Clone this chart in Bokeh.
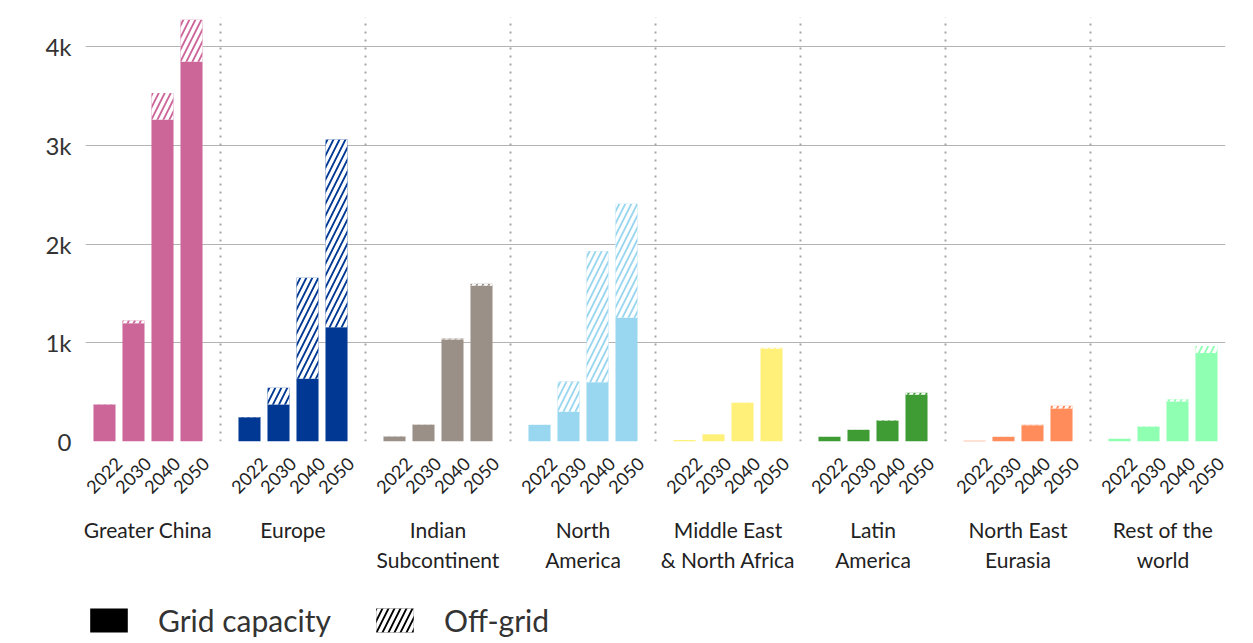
from bokeh.plotting import figure
from bokeh.layouts import column
from bokeh.models import (FixedTicker, LinearAxis, Range1d, Legend, LegendItem,
                          ColumnDataSource)
from bokeh.embed import file_html
from bokeh.resources import INLINE

# Regions (multi-line labels) and forecast years
regions = ["Greater China", "Europe", "Indian\nSubcontinent", "North\nAmerica",
           "Middle East\n& North Africa", "Latin\nAmerica", "North East\nEurasia",
           "Rest of the\nworld"]
years = ["2022", "2030", "2040", "2050"]
region_colors = ["#CC6699", "#003893", "#9A9088", "#99D6EF",
                 "#FFF07A", "#3F9C35", "#FF8C5A", "#8FFFB2"]

# Capacity per region and year
grid_capacity = [
    [375, 1200, 3263, 3851],
    [245, 375, 636, 1159],
    [50, 170, 1035, 1579],
    [168, 301, 601, 1254],
    [14, 73, 390, 940],
    [47, 117, 210, 474],
    [7, 46, 165, 335],
    [28, 150, 406, 896],
]
off_grid = [
    [3, 27, 270, 426],
    [3, 170, 1024, 1904],
    [2, 3, 10, 20],
    [2, 307, 1329, 1157],
    [1, 2, 5, 10],
    [1, 3, 5, 20],
    [1, 2, 5, 27],
    [1, 5, 23, 71],
]

y_ticks = [0, 1000, 2000, 3000, 4000]
y_tick_labels = ["0", "1k", "2k", "3k", "4k"]

FONT = "Lato"
STEP = 0.2        # spacing of the year bars inside a region
BAR_W = 0.152
LABEL_SHIFT = 0.1   # rotated year labels sit slightly right of their bar
HATCH = dict(hatch_pattern="/", hatch_color="white", hatch_weight=3.5,
             hatch_scale=12)

xs, gtop, otop, cols = [], [], [], []
for g, (gc, og, c) in enumerate(zip(grid_capacity, off_grid, region_colors)):
    for j in range(len(years)):
        xs.append(g + (j - 1.5) * STEP)
        gtop.append(gc[j])
        otop.append(gc[j] + og[j])
        cols.append(c)
src = ColumnDataSource(dict(x=xs, grid=gtop, total=otop, color=cols))

n = len(regions)
p = figure(frame_width=1140, frame_height=434,
           x_range=Range1d(-0.431, n - 1 + 0.431), y_range=Range1d(0, 4400),
           output_backend="svg", toolbar_location=None,
           min_border_left=85, min_border_right=28, min_border_top=7,
           min_border_bottom=0)
p.outline_line_color = None
p.background_fill_color = "white"

# horizontal grid
p.ygrid.ticker = FixedTicker(ticks=y_ticks)
p.ygrid.grid_line_color = "#b3b3b3"
p.ygrid.grid_line_width = 1
p.xgrid.grid_line_color = None

# dotted separators between regions
sep_x = [g + 0.5 for g in range(n - 1)]
p.segment(x0=sep_x, x1=sep_x, y0=[0] * len(sep_x), y1=[4300] * len(sep_x),
          line_color="#a6a6a6", line_width=2, line_dash="2 6")

# stacked bars: solid grid capacity, hatched off-grid on top
p.vbar(x="x", bottom=0, top="grid", width=BAR_W, fill_color="color",
       line_color=None, source=src)
p.vbar(x="x", bottom="grid", top="total", width=BAR_W, fill_color="color",
       line_color=None, source=src, **HATCH)

# y axis
yax = p.yaxis[0]
yax.ticker = FixedTicker(ticks=y_ticks)
yax.major_label_overrides = dict(zip(y_ticks, y_tick_labels))
yax.axis_line_color = None
yax.major_tick_line_color = None
yax.minor_tick_line_color = None
yax.major_label_text_font = FONT
yax.major_label_text_font_size = "24px"
yax.major_label_text_color = "#333333"
yax.major_label_standoff = 8

# year labels under each bar
label_x = [x + LABEL_SHIFT for x in xs]
xax = p.xaxis[0]
xax.ticker = FixedTicker(ticks=label_x)
xax.major_label_overrides = {x: years[i % 4] for i, x in enumerate(label_x)}
xax.major_label_orientation = 0.785398
xax.axis_line_color = None
xax.major_tick_line_color = None
xax.minor_tick_line_color = None
xax.major_label_text_font = FONT
xax.major_label_text_font_size = "18px"
xax.major_label_text_color = "#222222"
xax.major_label_standoff = 13

# region names
gax = LinearAxis(ticker=FixedTicker(ticks=list(range(n))),
                 major_label_overrides={g: r for g, r in enumerate(regions)})
gax.axis_line_color = None
gax.major_tick_line_color = None
gax.minor_tick_line_color = None
gax.major_label_text_font = FONT
gax.major_label_text_font_size = "21px"
gax.major_label_text_color = "#222222"
gax.major_label_standoff = 8
p.add_layout(gax, "below")

# legend strip under the chart; swatch renderers sit outside the visible range
lf = figure(width=1253, height=64, x_range=Range1d(0, 1), y_range=Range1d(0, 1),
            output_backend="svg", toolbar_location=None,
            x_axis_type=None, y_axis_type=None,
            min_border_left=0, min_border_right=0, min_border_top=0,
            min_border_bottom=0)
lf.outline_line_color = None
lf.xgrid.grid_line_color = None
lf.ygrid.grid_line_color = None
r_grid = lf.vbar(x=[-5], top=[-5], width=0.1, fill_color="black",
                 line_color=None)
r_off = lf.vbar(x=[-5], top=[-5], width=0.1, fill_color="black",
                line_color=None, **HATCH)
legend = Legend(items=[LegendItem(label="Grid capacity", renderers=[r_grid]),
                       LegendItem(label="Off-grid", renderers=[r_off])],
                orientation="horizontal", location=(0, 0),
                glyph_width=47, glyph_height=30, label_standoff=26,
                spacing=40, padding=0, margin=0,
                border_line_color=None, background_fill_alpha=0,
                label_text_font=FONT, label_text_font_size="30px",
                label_text_color="#333333")
lf.add_layout(legend, "center")

layout = column(p, lf, spacing=0)
open("out.html", "w").write(file_html(layout, INLINE))
